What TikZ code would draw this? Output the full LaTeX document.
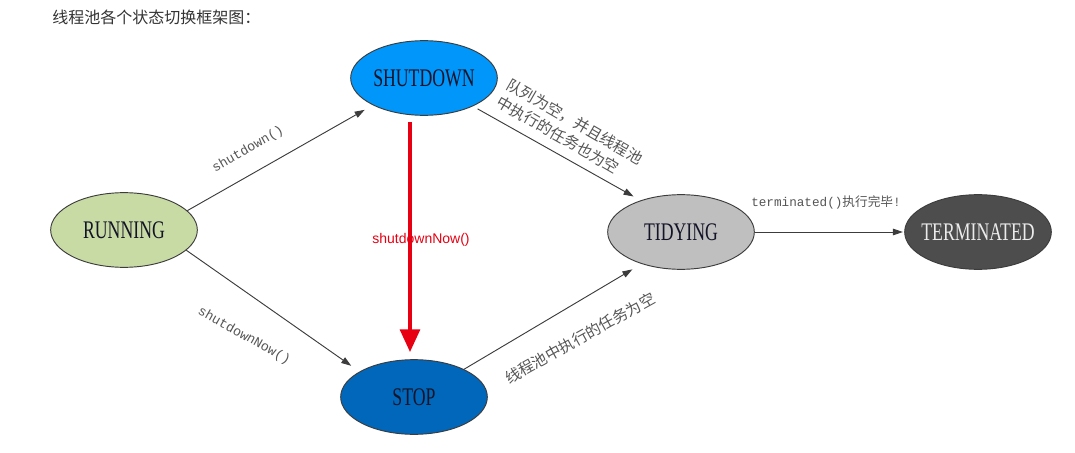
\documentclass[tikz,border=0pt]{standalone}
\usepackage{fontspec}
\setmainfont{Liberation Serif}
\newfontfamily\statefont[FakeStretch=0.7]{Liberation Serif}
\newfontfamily\cjk{Noto Sans CJK SC}
\newfontfamily\monof{Liberation Mono}
\newfontfamily\sansf{Liberation Sans}
\usetikzlibrary{shapes.geometric,arrows.meta}
\definecolor{runfill}{RGB}{201,219,165}
\definecolor{sdfill}{RGB}{0,150,250}
\definecolor{stopfill}{RGB}{0,103,187}
\definecolor{tidfill}{RGB}{191,191,191}
\definecolor{termfill}{RGB}{77,77,77}
\definecolor{edgecol}{RGB}{60,60,60}
\definecolor{lblcol}{RGB}{85,85,85}
\definecolor{titlecol}{RGB}{51,51,51}
\definecolor{redcol}{RGB}{230,0,18}
\definecolor{statetext}{RGB}{20,20,40}
\begin{document}
\begin{tikzpicture}[x=0.75pt,y=-0.75pt,
  state/.style={ellipse,draw=edgecol,line width=0.7pt,minimum width=110pt,minimum height=56pt,inner sep=0pt,
    font=\statefont\fontsize{19}{22}\selectfont,text=statetext},
  conn/.style={draw=edgecol,line width=0.7pt,-{Triangle[length=7.5pt,width=5pt]}},
  redarrow/.style={draw=redcol,line width=2.3pt,-{Triangle[length=17pt,width=15pt]}},
  lbl/.style={text=lblcol,inner sep=0pt},
  monolbl/.style={lbl,font=\monof\fontsize{10}{12}\selectfont},
  cjklbl/.style={lbl,font=\cjk\fontsize{11.5}{15}\selectfont}]
\useasboundingbox (0,0) rectangle (1075,453);
\node[anchor=west,text=titlecol,inner sep=0pt,font=\cjk\fontsize{12}{14}\selectfont] (title) at (52,17) {线程池各个状态切换框架图：};
\node[state,fill=runfill] (run) at (124,230) {RUNNING};
\node[state,fill=sdfill] (sd) at (424,78) {SHUTDOWN};
\node[state,fill=stopfill] (stop) at (414,397) {STOP};
\node[state,fill=tidfill] (tid) at (681,232) {TIDYING};
\node[state,fill=termfill,text=white!92!black,inner xsep=-4pt] (term) at (978,232) {TERMINATED};
\draw[conn,shorten >=7pt] (run.17) -- (sd.208);
\draw[conn,shorten >=7.5pt] (run.-18) -- (stop.155);
\draw[conn,shorten <=4pt,shorten >=6pt] (sd.-30) -- (tid.142);
\draw[conn,shorten >=8pt] (stop.29) -- (tid.219);
\draw[conn,shorten >=1pt] (tid.east) -- (term.west);
\coordinate (r1) at (410,122);
\coordinate (r2) at (410,352);
\draw[redarrow] (r1) -- (r2);
\node[text=redcol,inner sep=0pt,font=\sansf\fontsize{10.5}{12}\selectfont] (rlbl) at (421,240) {shutdownNow()};
\node[monolbl,rotate=30] (l1) at (248,150) {shutdown()};
\node[monolbl,rotate=-29.5] (l2) at (244,336) {shutdownNow()};
\node[cjklbl,rotate=-30,align=left] (l3) at (570,130) {队列为空，并且线程池\\中执行的任务也为空};
\node[cjklbl,rotate=29] (l4) at (580,338) {线程池中执行的任务为空};
\node[lbl,font=\monof\fontsize{9.5}{11}\selectfont] (l5) at (826,202) {terminated(){\cjk 执行完毕}!};
\end{tikzpicture}
\end{document}
